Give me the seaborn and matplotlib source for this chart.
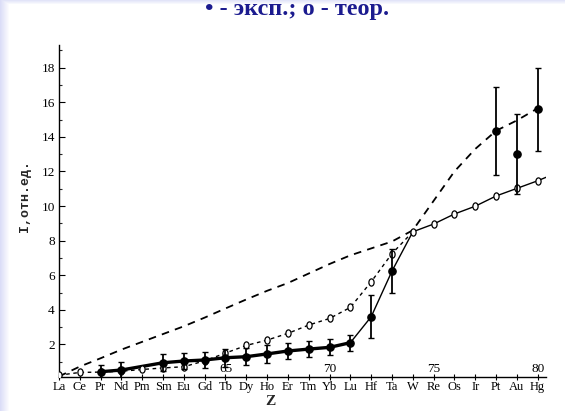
import numpy as np
import pandas as pd
import matplotlib
matplotlib.use("Agg")
import matplotlib.pyplot as plt
from matplotlib.ticker import FixedLocator, MultipleLocator
from matplotlib.path import Path
from matplotlib.transforms import Affine2D
import seaborn as sns

# ---- data -------------------------------------------------------------
elements = ["La", "Ce", "Pr", "Nd", "Pm", "Sm", "Eu", "Gd", "Tb", "Dy", "Ho", "Er",
            "Tm", "Yb", "Lu", "Hf", "Ta", "W", "Re", "Os", "Ir", "Pt", "Au", "Hg"]
z_all = list(range(57, 81))
z_line = z_all + [80.4]

# long-dashed calculated curve (no markers)
calc_long = [0.15, 0.72, 1.2, 1.7, 2.15, 2.6, 3.05, 3.55, 4.08, 4.6, 5.1, 5.55,
             6.1, 6.65, 7.15, 7.55, 7.95, 8.6, 10.3, 12.0, 13.3, 14.35, 14.95, 15.65,
             15.72]
# theory, open circles
theor = [0.22, 0.38, 0.4, 0.45, 0.55, 0.64, 0.71, 1.05, 1.5, 1.94, 2.25, 2.64,
         3.12, 3.5, 4.14, 5.62, 7.25, 8.51, 8.96, 9.54, 9.99, 10.58, 11.02, 11.46,
         11.66]

# experiment, filled circles with error bars
exp_z = [59, 60, 62, 63, 64, 65, 66, 67, 68, 69, 70, 71, 72, 73, 78, 79, 80]
exp_i = [0.42, 0.52, 0.94, 1.04, 1.1, 1.23, 1.29, 1.45, 1.62, 1.73, 1.83, 2.1,
         3.6, 6.24, 14.35, 13.0, 15.6]
exp_err = [0.4, 0.48, 0.49, 0.48, 0.45, 0.52, 0.5, 0.5, 0.48, 0.46, 0.46, 0.46,
           1.23, 1.27, 2.53, 2.33, 2.39]
# experimental trend line: heavy part and its thin continuation up to W
exp_heavy_z = [59, 60, 62, 63, 64, 65, 66, 67, 68, 69, 70, 71]
exp_thin_z = [71, 72, 73, 74]
exp_thin_i = [2.1, 3.6, 6.24, 8.51]

num_ticks = [65, 70, 75, 80]
title = "\u2022 - эксп.; о - теор."

# ---- style ------------------------------------------------------------
sns.set_theme(style="white")
plt.rcParams["font.family"] = ["Liberation Serif", "DejaVu Serif"]
plt.rcParams["lines.scale_dashes"] = False

W, H = 565, 411
fig = plt.figure(figsize=(W / 100, H / 100), dpi=100)
fig.patch.set_facecolor("white")

# soft lavender frame along the left and top edges
bg = np.ones((H, W, 3))
lav = np.array([0.86, 0.87, 0.97])
for i in range(9):
    t = i / 9
    bg[:, i, :] = lav * (1 - t) + np.ones(3) * t
for j in range(5):
    t = j / 5
    row = lav * (1 - t) + np.ones(3) * t
    bg[j, :, :] = np.minimum(bg[j, :, :], row)
bax = fig.add_axes([0, 0, 1, 1], zorder=-5)
bax.imshow(bg, aspect="auto", interpolation="nearest")
bax.axis("off")

ax = fig.add_axes([59 / W, (H - 377) / H, (546 - 59) / W, (377 - 45) / H])
ax.set_facecolor("none")

df_line = pd.DataFrame({"Z": z_line, "calc": calc_long, "theor": theor})
df_exp = pd.DataFrame({"Z": exp_z, "I": exp_i, "err": exp_err})
heavy = df_exp[df_exp["Z"].isin(exp_heavy_z)]

# slightly tall open ring used for the theory points
ring = Path.unit_circle().transformed(Affine2D().scale(0.72, 1.0))

# long-dashed calculated curve
sns.lineplot(data=df_line, x="Z", y="calc", ax=ax, color="black", lw=1.3,
             linestyle=(0, (5.5, 4.5)), legend=False)

# theory: short dashes up to W, solid afterwards
th_lo = df_line[df_line["Z"] <= 74]
th_hi = df_line[df_line["Z"] >= 74]
sns.lineplot(data=th_lo, x="Z", y="theor", ax=ax, color="black", lw=1.0,
             linestyle=(0, (2.6, 2.6)), legend=False)
sns.lineplot(data=th_hi, x="Z", y="theor", ax=ax, color="black", lw=1.0,
             legend=False)
th_pts = df_line[df_line["Z"] <= 80]
ax.plot(th_pts["Z"], th_pts["theor"], ls="none", marker=ring, ms=5.2,
        mfc="white", mec="black", mew=0.9, zorder=4)

# experiment
sns.lineplot(data=heavy, x="Z", y="I", ax=ax, color="black", lw=2.4, legend=False)
ax.plot(exp_thin_z, exp_thin_i, color="black", lw=1.0, zorder=3)
ax.errorbar(df_exp["Z"], df_exp["I"], yerr=df_exp["err"], fmt="o", color="black",
            ms=5.2, elinewidth=1.3, capsize=2.4, capthick=1.0, zorder=5)

# ---- axes -------------------------------------------------------------
ax.set_xlabel("")
ax.set_ylabel("")
ax.set_xlim(57, 80.4)
ax.set_ylim(0.116, 19.31)
for s in ["top", "right"]:
    ax.spines[s].set_visible(False)
for s in ["left", "bottom"]:
    ax.spines[s].set_color("black")
    ax.spines[s].set_linewidth(1.0)

ax.xaxis.set_major_locator(FixedLocator(z_all))
ax.set_xticklabels(elements, fontsize=9)
ax.tick_params(axis="x", direction="inout", length=5, width=0.8, pad=0.5,
               colors="black", bottom=True)
for z in num_ticks:
    ax.annotate(str(z), xy=(z, 0.116), xytext=(0, 1.5), textcoords="offset points",
                ha="center", va="bottom", fontsize=9.5, color="black")

ax.set_yticks([2, 4, 6, 8, 10, 12, 14, 16, 18])
ax.yaxis.set_minor_locator(MultipleLocator(1))
ax.tick_params(axis="y", which="major", direction="in", length=4, width=0.8,
               pad=3, labelsize=9.5, colors="black", left=True)
ax.tick_params(axis="y", which="minor", direction="in", length=2.5, width=0.8,
               left=True)

fig.text(25 / W, 1 - 196 / H, "I,отн.ед.", rotation=90, ha="center", va="center",
         fontsize=9.5, fontweight="bold", family=["Liberation Mono", "DejaVu Sans Mono"])
fig.text(270 / W, 1 - 401 / H, "Z", ha="center", va="center", fontsize=11,
         fontweight="bold")
fig.text(297 / W, 1 - 15 / H, title, ha="center", va="baseline", fontsize=17.5,
         fontweight="bold", color="#1b1b8f")

fig.savefig("out.png", dpi=100)
